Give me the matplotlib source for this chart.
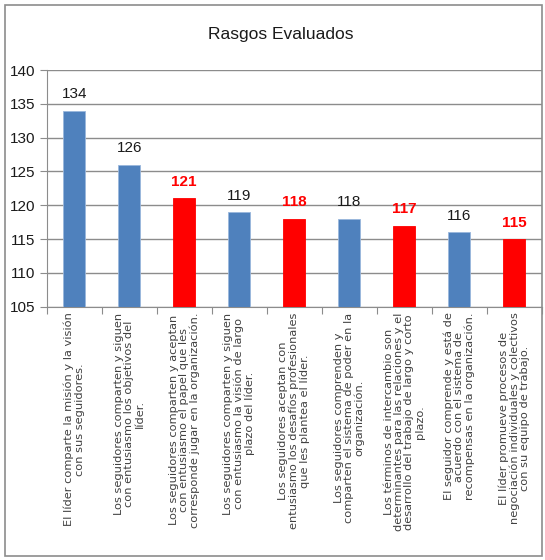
import matplotlib.pyplot as plt
from matplotlib.patches import Rectangle

# Datos
categorias = [
    "El líder comparte la misión y la visión\ncon sus seguidores.",
    "Los seguidores comparten y siguen\ncon entusiasmo los objetivos del\nlíder.",
    "Los seguidores comparten y aceptan\ncon entusiasmo el papel que les\ncorresponde jugar en la organización.",
    "Los seguidores comparten y siguen\ncon entusiasmo la visión de largo\nplazo del líder.",
    "Los seguidores aceptan con\nentusiasmo los desafíos profesionales\nque les plantea el líder.",
    "Los seguidores comprenden y\ncomparten el sistema de poder en la\norganización.",
    "Los términos de intercambio son\ndeterminantes para las relaciones y el\ndesarrollo del trabajo de largo y corto\nplazo.",
    "El seguidor comprende y está de\nacuerdo con el sistema de\nrecompensas en la organización.",
    "El líder promueve procesos de\nnegociación individuales y colectivos\ncon su equipo de trabajo.",
]
valores = [134, 126, 121, 119, 118, 118, 117, 116, 115]
resaltado = [False, False, True, False, True, False, True, False, True]
y_ticks = [105, 110, 115, 120, 125, 130, 135, 140]

narrow = ['Liberation Sans', 'DejaVu Sans']
azul = '#4F81BD'
rojo = '#FF0000'

fig = plt.figure(figsize=(5.45, 5.6), dpi=100)
ax = fig.add_axes([46.7 / 545, 1 - 306.7 / 560, 495 / 545, (306.7 - 70) / 560])

# Marco del gráfico
fig.patches.append(Rectangle((5 / 545, 4 / 560), 537 / 545, 551 / 560,
                             transform=fig.transFigure, fill=False,
                             edgecolor='#8c8c8c', linewidth=1.2))

x = list(range(len(valores)))
colores = [rojo if r else azul for r in resaltado]
ax.bar(x, [v - 105 for v in valores], bottom=105, width=0.4, color=colores,
       edgecolor=[c if c == rojo else '#9ab7dc' for c in colores], linewidth=0.6, zorder=3)

for i, (v, r) in enumerate(zip(valores, resaltado)):
    ax.text(i, v + 1.4, str(v), ha='center', va='bottom', fontsize=11,
            family=narrow, color=rojo if r else '#1a1a1a',
            fontweight='bold' if r else 'normal')

ax.set_xlim(-0.5, len(valores) - 0.5)
ax.set_ylim(105, 140)
ax.set_yticks(y_ticks)
ax.set_yticklabels([str(t) for t in y_ticks], family=narrow, fontsize=11, color='#1a1a1a')
ax.yaxis.grid(True, color='#8c8c8c', linewidth=1)
ax.set_axisbelow(True)

# marcas de categoría en los límites
ax.set_xticks([i - 0.5 for i in range(len(valores) + 1)])
ax.set_xticklabels([])
ax.tick_params(axis='x', length=5, color='#8c8c8c')
ax.tick_params(axis='y', length=5, color='#8c8c8c', pad=3)

for i, c in enumerate(categorias):
    ax.text(i, -0.025, c, transform=ax.get_xaxis_transform(), rotation=90,
            ha='center', va='top', multialignment='center', fontsize=8.2,
            linespacing=1.03, color='#404040', family='DejaVu Sans')

for s in ['top', 'right']:
    ax.spines[s].set_visible(False)
ax.spines['left'].set_color('#8c8c8c')
ax.spines['bottom'].set_color('#8c8c8c')

fig.text(0.515, 1 - 35 / 560, 'Rasgos Evaluados', ha='center', va='center',
         fontsize=12.5, family=narrow, color='#1a1a1a')

fig.savefig('out.png', dpi=100)
